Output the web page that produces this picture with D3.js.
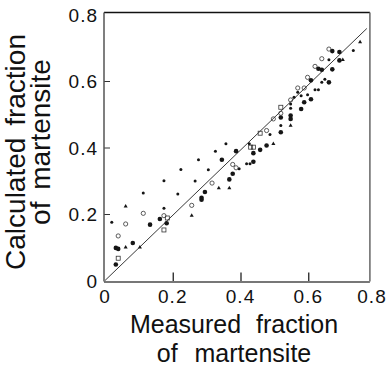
<!DOCTYPE html>
<html><head><meta charset="utf-8">
<script src="https://cdn.jsdelivr.net/npm/d3@7"></script>
<style>
body{margin:0;background:#fff;}
svg{display:block;font-family:"Liberation Sans",Arial,sans-serif;}
</style></head>
<body><svg id="c" width="387" height="366"></svg>
<script>
// Tick values
const xTicks = [0, 0.2, 0.4, 0.6, 0.8];
const yTicks = [0, 0.2, 0.4, 0.6, 0.8];
const xTickLabels = ["0", "0.2", "0.4", "0.6", "0.8"];
const yTickLabels = ["0", "0.2", "0.4", "0.6", "0.8"];
// Reference (diagonal) line
const refLineX = [0, 0.773];
const refLineY = [0, 0.758];
// Series: filled circles
const filledX = [0.032,0.039,0.032,0.082,0.133,0.162,0.182,0.285,0.285,0.295,0.345,0.367,0.377,0.387,0.438,0.438,0.458,0.477,0.519,0.519,0.548,0.548,0.579,0.588,0.608,0.608,0.630,0.640,0.661,0.671,0.671,0.692,0.692];
const filledY = [0.098,0.095,0.048,0.113,0.168,0.185,0.172,0.249,0.243,0.266,0.363,0.304,0.321,0.389,0.383,0.357,0.393,0.406,0.490,0.446,0.496,0.486,0.516,0.536,0.602,0.545,0.637,0.634,0.596,0.690,0.635,0.687,0.662];
// Series: small filled dots
const smallX = [0.020,0.113,0.174,0.174,0.215,0.224,0.266,0.276,0.305,0.326,0.357,0.396,0.418,0.428,0.426,0.487,0.519,0.548,0.548,0.558,0.569,0.579,0.598,0.620,0.630,0.640,0.649,0.661,0.733];
const smallY = [0.175,0.263,0.300,0.217,0.260,0.334,0.299,0.363,0.333,0.389,0.411,0.336,0.351,0.351,0.411,0.439,0.466,0.531,0.518,0.551,0.566,0.556,0.559,0.574,0.574,0.596,0.605,0.664,0.692];
// Series: small triangles
const triX = [0.061,0.061,0.103,0.256,0.336,0.367,0.497,0.548,0.702,0.753];
const triY = [0.223,0.100,0.100,0.195,0.278,0.278,0.411,0.466,0.664,0.717];
// Series: open circles
const openX = [0.039,0.061,0.113,0.174,0.256,0.316,0.377,0.387,0.477,0.497,0.519,0.548,0.569,0.588,0.598,0.620,0.640,0.661];
const openY = [0.134,0.170,0.202,0.195,0.226,0.293,0.349,0.339,0.451,0.486,0.503,0.543,0.579,0.579,0.611,0.644,0.667,0.696];
// Series: open squares
const squareX = [0.039,0.184,0.174,0.430,0.438,0.458,0.519];
const squareY = [0.067,0.188,0.152,0.401,0.401,0.443,0.521];
// Frame extent (right edge of the box as drawn in the picture)
const frameMax = [0.782, 0.8];

const svg = d3.select("#c");
const x = d3.scaleLinear().domain([0, 0.8]).range([105, 376]);
const y = d3.scaleLinear().domain([0, 0.8]).range([280.5, 14.5]);

// Frame
svg.append("line").attr("x1", x(0)-1).attr("x2", x(frameMax[0])).attr("y1", y(0.8)-2).attr("y2", y(0.8)-2)
  .attr("stroke", "#111").attr("stroke-width", 1.5);
svg.append("line").attr("x1", x(frameMax[0])).attr("x2", x(frameMax[0])).attr("y1", y(0.8)-2).attr("y2", y(0)+1)
  .attr("stroke", "#666").attr("stroke-width", 1.5);

// Axes (inward ticks)
const xAxis = d3.axisBottom(x).tickValues(xTicks.slice(1, 4)).tickSize(-9).tickFormat("");
const gx = svg.append("g").attr("transform", `translate(0,${y(0)+1})`).call(xAxis);
gx.select(".domain").remove();
gx.selectAll(".tick line").attr("stroke", "#222").attr("stroke-width", 1.3);
svg.append("line").attr("x1", x(0)-1).attr("x2", x(frameMax[0])).attr("y1", y(0)+1.5).attr("y2", y(0)+1.5)
  .attr("stroke", "#777").attr("stroke-width", 2);

const yAxis = d3.axisLeft(y).tickValues(yTicks.slice(1, 4)).tickSize(-6).tickFormat("");
const gy = svg.append("g").attr("transform", `translate(${x(0)-1},0)`).call(yAxis);
gy.select(".domain").remove();
gy.selectAll(".tick line").attr("stroke", "#333").attr("stroke-width", 1);
svg.append("line").attr("x1", x(0)-1).attr("x2", x(0)-1).attr("y1", y(0.8)-2).attr("y2", y(0)+1)
  .attr("stroke", "#555").attr("stroke-width", 1.5);

// Tick labels
svg.append("g").selectAll("text").data(xTicks).join("text")
  .attr("x", d => Math.min(x(d), 372)).attr("y", 303)
  .attr("text-anchor", "middle").attr("font-size", 19).attr("letter-spacing", 1)
  .attr("fill", "#111").text((d, i) => xTickLabels[i]);
svg.append("g").selectAll("text").data(yTicks).join("text")
  .attr("x", 98).attr("y", d => y(d) + 7)
  .attr("text-anchor", "end").attr("font-size", 19).attr("letter-spacing", 1)
  .attr("fill", "#111").text((d, i) => yTickLabels[i]);

// Reference line
svg.append("line")
  .attr("x1", x(refLineX[0])).attr("y1", y(refLineY[0]))
  .attr("x2", x(refLineX[1])).attr("y2", y(refLineY[1]))
  .attr("stroke", "#222").attr("stroke-width", 0.9);

const col = "#151515";
const pts = (xs, ys) => xs.map((v, i) => [v, ys[i]]);
svg.append("g").selectAll("circle").data(pts(filledX, filledY)).join("circle")
  .attr("cx", d => x(d[0])).attr("cy", d => y(d[1])).attr("r", 2.3).attr("fill", col);
svg.append("g").selectAll("circle").data(pts(smallX, smallY)).join("circle")
  .attr("cx", d => x(d[0])).attr("cy", d => y(d[1])).attr("r", 1.5).attr("fill", col);
const tri = d3.symbol().type(d3.symbolTriangle).size(7);
svg.append("g").selectAll("path").data(pts(triX, triY)).join("path")
  .attr("transform", d => `translate(${x(d[0])},${y(d[1])})`).attr("d", tri).attr("fill", col);
svg.append("g").selectAll("circle").data(pts(openX, openY)).join("circle")
  .attr("cx", d => x(d[0])).attr("cy", d => y(d[1])).attr("r", 2.1)
  .attr("fill", "none").attr("stroke", "#333").attr("stroke-width", 0.8);
svg.append("g").selectAll("rect").data(pts(squareX, squareY)).join("rect")
  .attr("x", d => x(d[0]) - 2).attr("y", d => y(d[1]) - 2).attr("width", 4).attr("height", 4)
  .attr("fill", "none").attr("stroke", "#333").attr("stroke-width", 0.8);

// Axis titles
const yt = svg.append("g").attr("font-size", 28).attr("fill", "#111").attr("text-anchor", "middle");
yt.append("text").attr("transform", "translate(25,152) rotate(-90)").attr("word-spacing", 4).text("Calculated fraction");
yt.append("text").attr("transform", "translate(50,142) rotate(-90)").attr("word-spacing", 4).text("of martensite");
const xt = svg.append("g").attr("font-size", 25).attr("fill", "#111").attr("text-anchor", "middle");
xt.append("text").attr("x", 234).attr("y", 333).attr("word-spacing", 8).text("Measured fraction");
xt.append("text").attr("x", 234).attr("y", 362).attr("word-spacing", 10).text("of martensite");
</script></body></html>
